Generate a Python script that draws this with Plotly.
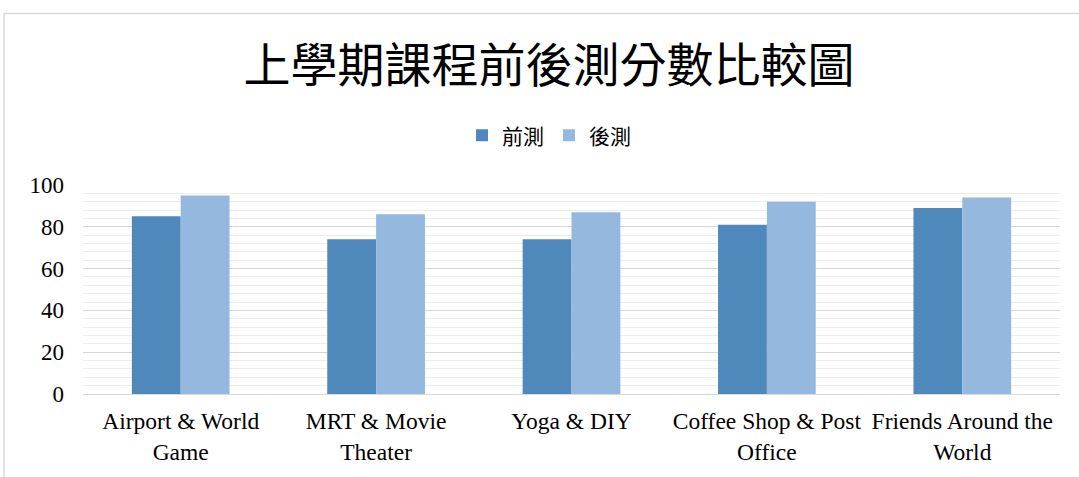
import plotly.graph_objects as go

categories = ["Airport & World<br>Game", "MRT & Movie<br>Theater", "Yoga & DIY",
              "Coffee Shop & Post<br>Office", "Friends Around the<br>World"]
pre_scores = [85, 74, 74, 81, 89]
post_scores = [95, 86, 87, 92, 94]
series_names = ["前測", "後測"]
title_text = "上學期課程前後測分數比較圖"

font_family = "Liberation Serif, Times New Roman, Noto Sans CJK TC, serif"
cjk_family = "Noto Sans CJK TC, serif"

fig = go.Figure()
fig.add_trace(go.Bar(x=categories, y=pre_scores, name=series_names[0],
                     marker=dict(color="#4F88BB", line=dict(width=0))))
fig.add_trace(go.Bar(x=categories, y=post_scores, name=series_names[1],
                     marker=dict(color="#95B8DF", line=dict(width=0))))

W, H = 1079, 477
ml, mr, mt, mb = 83, 19, 185, 80
pw, ph = W - ml - mr, H - mt - mb

fig.update_layout(
    width=W, height=H,
    margin=dict(l=ml, r=mr, t=mt, b=mb, pad=0),
    paper_bgcolor="white", plot_bgcolor="white",
    barmode="group", bargap=0.5, bargroupgap=0,
    font=dict(family=font_family, size=23, color="#000000"),
    title=dict(text=title_text, x=549 / W, xanchor="center", y=1 - 66 / H, yanchor="middle",
               font=dict(family=cjk_family, size=47, color="#000000")),
    legend=dict(orientation="h", x=(549 - ml) / pw, xanchor="center", y=1 + (185 - 135) / ph,
                yanchor="middle", font=dict(family=cjk_family, size=21), itemwidth=30,
                traceorder="normal", bgcolor="rgba(0,0,0,0)"),
    showlegend=True,
)
fig.update_xaxes(showgrid=False, showline=True, linecolor="#D9D9D9", linewidth=1,
                 ticks="", ticklabelstandoff=6, tickfont=dict(size=23.5, family=font_family))
fig.update_yaxes(range=[0, 100], dtick=20, showgrid=True, gridcolor="#D6D6D6", gridwidth=1,
                 minor=dict(dtick=4, showgrid=True, gridcolor="#EDEDED", gridwidth=1),
                 zeroline=False, showline=False, ticks="", ticklabelstandoff=18,
                 tickfont=dict(size=23, family=font_family))

# chart-area border (light grey), partly cropped as in the source image
fig.add_shape(type="rect", xref="paper", yref="paper",
              x0=(4 - ml) / pw, x1=(W + 20 - ml) / pw,
              y0=-(mb + 20) / ph, y1=1 + (mt - 11) / ph,
              line=dict(color="#D9D9D9", width=1.5), fillcolor="rgba(0,0,0,0)", layer="below")

fig.write_html("out.html", config={"displayModeBar": False},
               post_script="document.body.style.margin='0';")
